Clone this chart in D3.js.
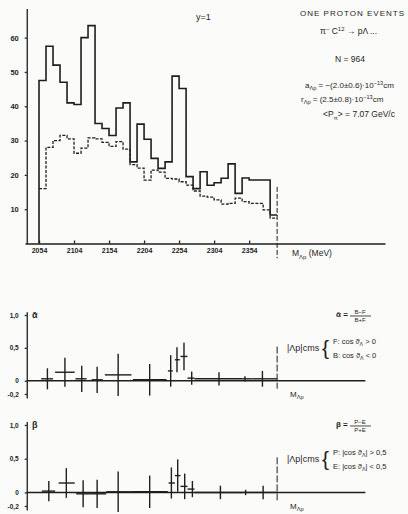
<!DOCTYPE html>
<html>
<head>
<meta charset="utf-8">
<script src="https://cdn.jsdelivr.net/npm/d3@7"></script>
<style>
  body { margin: 0; background: #fbfbf9; }
  svg { display: block; font-family: "Liberation Sans", "DejaVu Sans", sans-serif; }
  text { fill: #1e1e1e; }
</style>
</head>
<body>
<svg id="chart" width="408" height="514"></svg>
<script>
// histogram: 10 MeV bins starting at 2054 MeV
const binStart = 2054;
const binWidth = 10;
const allEvents = [47.5, 57.5, 52, 47, 41, 40.5, 60, 63.5, 35, 33.5, 31.5, 39.5, 41, 23.8, 34.8, 30.4, 24.8,
                   21.9, 23.8, 48.8, 45.2, 19.5, 16, 20.9, 17, 17.7, 19, 23.2, 14.6, 19.1, 18.5, 18.5, 18.5, 8.3];
const background = [16, 28, 30, 31.5, 30.5, 26.3, 27.8, 30.8, 30.5, 29.5, 28.3, 29.7, 27.5, 23, 22, 18.5, 21.4,
                    20.8, 19, 18.8, 18, 17, 15.3, 13.8, 13.5, 12.7, 11.5, 11.7, 13.2, 12.2, 11.7, 11.7, 9.8, 7.4];
const massTicks = [2054, 2104, 2154, 2204, 2254, 2304, 2354];
const countTicks = [10, 20, 30, 40, 50, 60];
const thresholdMass = 2394;

// asymmetry alpha = (B-F)/(B+F)
const alphaMass = [2066, 2091, 2115, 2137, 2167, 2212, 2242, 2251, 2261, 2272, 2311, 2348, 2373];
const alphaLo   = [2057, 2077, 2106, 2129, 2148, 2188, 2238, 2248, 2256, 2266, 2276, 2345, 2359];
const alphaHi   = [2074, 2105, 2122, 2145, 2186, 2236, 2245, 2255, 2266, 2276, 2345, 2359, 2394];
const alphaVal  = [0.03, 0.13, 0.03, 0.015, 0.09, 0.015, 0.15, 0.32, 0.37, 0.04, 0.03, 0.03, 0.03];
const alphaErr  = [0.16, 0.22, 0.2, 0.2, 0.32, 0.24, 0.24, 0.19, 0.21, 0.1, 0.1, 0.04, 0.12];

// asymmetry beta = (P-E)/(P+E)
const betaMass = [2068, 2093, 2117, 2137, 2167, 2212, 2243, 2252, 2262, 2273, 2313, 2349, 2374];
const betaLo   = [2058, 2082, 2107, 2128, 2150, 2188, 2239, 2248, 2256, 2266, 2276, 2345, 2359];
const betaHi   = [2077, 2105, 2128, 2150, 2188, 2238, 2248, 2256, 2266, 2276, 2345, 2359, 2394];
const betaVal  = [0.02, 0.14, -0.02, -0.02, 0.01, 0.01, 0.14, 0.25, 0.09, 0.05, 0, 0, 0];
const betaErr  = [0.15, 0.22, 0.2, 0.21, 0.3, 0.24, 0.23, 0.24, 0.19, 0.12, 0.1, 0.04, 0.1];
const asymTicks = [-0.2, 0, 0.5, 1.0];

const ink = '#1e1e1e';
const svg = d3.select('#chart');

const x = d3.scaleLinear().domain([2034, 2548]).range([25, 385]);
const y = d3.scaleLinear().domain([0, 68.5]).range([243.5, 8.5]);

function styleAxis(g, size, bold) {
    g.attr('font-family', null).attr('font-size', size).attr('color', ink)
     .attr('font-weight', bold ? 'bold' : null);
    g.selectAll('path, line').attr('stroke-width', 1.3);
}

// text with sub/superscripts: parts = [[text, 'sub'|'sup'|undefined], ...]
function rich(x0, y0, parts, size, anchor) {
    const t = svg.append('text').attr('x', x0).attr('y', y0)
        .attr('font-size', size).attr('text-anchor', anchor || 'start');
    let shift = 0;
    parts.forEach(([s, kind]) => {
        const target = kind === 'sup' ? -size * 0.4 : kind === 'sub' ? size * 0.3 : 0;
        t.append('tspan').attr('dy', target - shift)
            .attr('font-size', kind ? size * 0.7 : size).text(s);
        shift = target;
    });
    return t;
}

// ---- top histogram ----
svg.append('g')
    .attr('transform', `translate(0,${y(0)})`)
    .call(d3.axisBottom(x).tickValues(massTicks).tickSize(-3).tickPadding(5)
        .tickSizeOuter(0).tickFormat(d3.format('d')))
    .call(g => styleAxis(g, 7, true));

svg.append('g')
    .attr('transform', `translate(${x(2036.5)},0)`)
    .call(d3.axisLeft(y).tickValues(countTicks).tickSize(2).tickPadding(6).tickSizeOuter(0))
    .call(g => styleAxis(g, 7.5, true));

const step = d3.line().x(d => x(d[0])).y(d => y(d[1])).curve(d3.curveStepAfter);
const endMass = binStart + allEvents.length * binWidth;

const solidPts = [[binStart, 0]]
    .concat(allEvents.map((v, i) => [binStart + i * binWidth, v]))
    .concat([[endMass, allEvents[allEvents.length - 1]]]);
const dashPts = background.map((v, i) => [binStart + i * binWidth, v])
    .concat([[endMass, background[background.length - 1]]]);

svg.append('path').attr('d', step(dashPts))
    .attr('fill', 'none').attr('stroke', ink).attr('stroke-width', 1.3)
    .attr('stroke-dasharray', '3,1.5');
svg.append('path').attr('d', step(solidPts))
    .attr('fill', 'none').attr('stroke', ink).attr('stroke-width', 1.6);

svg.append('line')
    .attr('x1', x(thresholdMass)).attr('x2', x(thresholdMass))
    .attr('y1', y(16.5)).attr('y2', y(-4.3))
    .attr('stroke', ink).attr('stroke-width', 1).attr('stroke-dasharray', '5,2');

svg.append('text').attr('x', 196).attr('y', 20).attr('font-size', 9).text('y=1');
rich(292, 256, [['M'], ['Λp', 'sub'], [' (MeV)']], 8.5);

// annotation block
svg.append('text').attr('x', 300).attr('y', 16).attr('font-size', 8)
    .attr('textLength', 104).text('ONE  PROTON EVENTS');
rich(320, 34, [['π'], ['−', 'sup'], [' C'], ['12', 'sup'], [' → pΛ ...']], 8.5);
svg.append('text').attr('x', 350).attr('y', 62).attr('font-size', 8.5)
    .attr('text-anchor', 'middle').text('N = 964');
rich(305, 88, [['a'], ['Λp', 'sub'], [' = −(2.0±0.6)·10'], ['−13', 'sup'], ['cm']], 8);
rich(301, 102, [['r'], ['Λp', 'sub'], [' = (2.5±0.8)·10'], ['−13', 'sup'], ['cm']], 8);
rich(323, 117, [['<P'], ['π', 'sub'], ['> = 7.07 '], ['GeV/c']], 8.5);

// ---- asymmetry panels ----
function asymPanel(ys, mass, lo, hi, val, err, symbol, fracTop, fracBot, condA, condB, yText) {
    const fmt = d => d === 0 ? '0' : d3.format('.1f')(d).replace('.', ',').replace('−', '-');

    svg.append('g')
        .attr('transform', `translate(${x(2036.5)},0)`)
        .call(d3.axisLeft(ys).tickValues(asymTicks).tickSize(2).tickPadding(6)
            .tickSizeOuter(0).tickFormat(fmt))
        .call(g => styleAxis(g, 6.5, true));

    svg.append('line')
        .attr('x1', x(2036.5)).attr('x2', x(2520))
        .attr('y1', ys(0)).attr('y2', ys(0))
        .attr('stroke', ink).attr('stroke-width', 1.4);

    const idx = d3.range(mass.length);
    const bars = svg.append('g').attr('stroke', ink).attr('stroke-width', 1.4);
    bars.selectAll('line.h').data(idx).join('line').attr('class', 'h')
        .attr('x1', i => x(lo[i])).attr('x2', i => x(hi[i]))
        .attr('y1', i => ys(val[i])).attr('y2', i => ys(val[i]));
    bars.selectAll('line.v').data(idx).join('line').attr('class', 'v')
        .attr('x1', i => x(mass[i])).attr('x2', i => x(mass[i]))
        .attr('y1', i => ys(val[i] - err[i])).attr('y2', i => ys(val[i] + err[i]));

    svg.append('line')
        .attr('x1', x(thresholdMass)).attr('x2', x(thresholdMass))
        .attr('y1', ys(0.52)).attr('y2', ys(-0.12))
        .attr('stroke', ink).attr('stroke-width', 1).attr('stroke-dasharray', '7,2');

    const y0 = ys(1.0);
    svg.append('text').attr('x', 32).attr('y', y0 + 3).attr('font-size', 9)
        .attr('font-weight', 'bold').text(symbol);
    rich(290, ys(-0.2) + 3, [['M'], ['Λp', 'sub']], 8);

    svg.append('text').attr('x', 336).attr('y', y0 + 2).attr('font-size', 8)
        .attr('font-weight', 'bold').text(symbol + ' =');
    svg.append('text').attr('x', 360).attr('y', y0 - 1).attr('font-size', 6)
        .attr('text-anchor', 'middle').text(fracTop);
    svg.append('line').attr('x1', 350).attr('x2', 371).attr('y1', y0 + 1).attr('y2', y0 + 1)
        .attr('stroke', ink).attr('stroke-width', 0.8);
    svg.append('text').attr('x', 360).attr('y', y0 + 7).attr('font-size', 6)
        .attr('text-anchor', 'middle').text(fracBot);

    svg.append('text').attr('x', 287).attr('y', yText + 3).attr('font-size', 9).text('|Λp|cms');
    svg.append('text').attr('x', 322).attr('y', yText + 7).attr('font-size', 21)
        .attr('font-weight', 'lighter').text('{');
    rich(333, yText - 4, condA, 7.5);
    rich(333, yText + 10, condB, 7.5);
}

const ya = d3.scaleLinear().domain([-0.26, 1.05]).range([397.9, 311.7]);
const yb = d3.scaleLinear().domain([-0.26, 1.05]).range([510, 421.6]);

asymPanel(ya, alphaMass, alphaLo, alphaHi, alphaVal, alphaErr, 'ᾱ', 'B−F', 'B+F',
    [['F:  cos ϑ'], ['Λ', 'sub'], [' > 0']],
    [['B:  cos ϑ'], ['Λ', 'sub'], [' < 0']], 348);
asymPanel(yb, betaMass, betaLo, betaHi, betaVal, betaErr, 'β', 'P−E', 'P+E',
    [['P: |cos ϑ'], ['Λ', 'sub'], ['| > 0,5']],
    [['E: |cos ϑ'], ['Λ', 'sub'], ['| < 0,5']], 459);
</script>
</body>
</html>
